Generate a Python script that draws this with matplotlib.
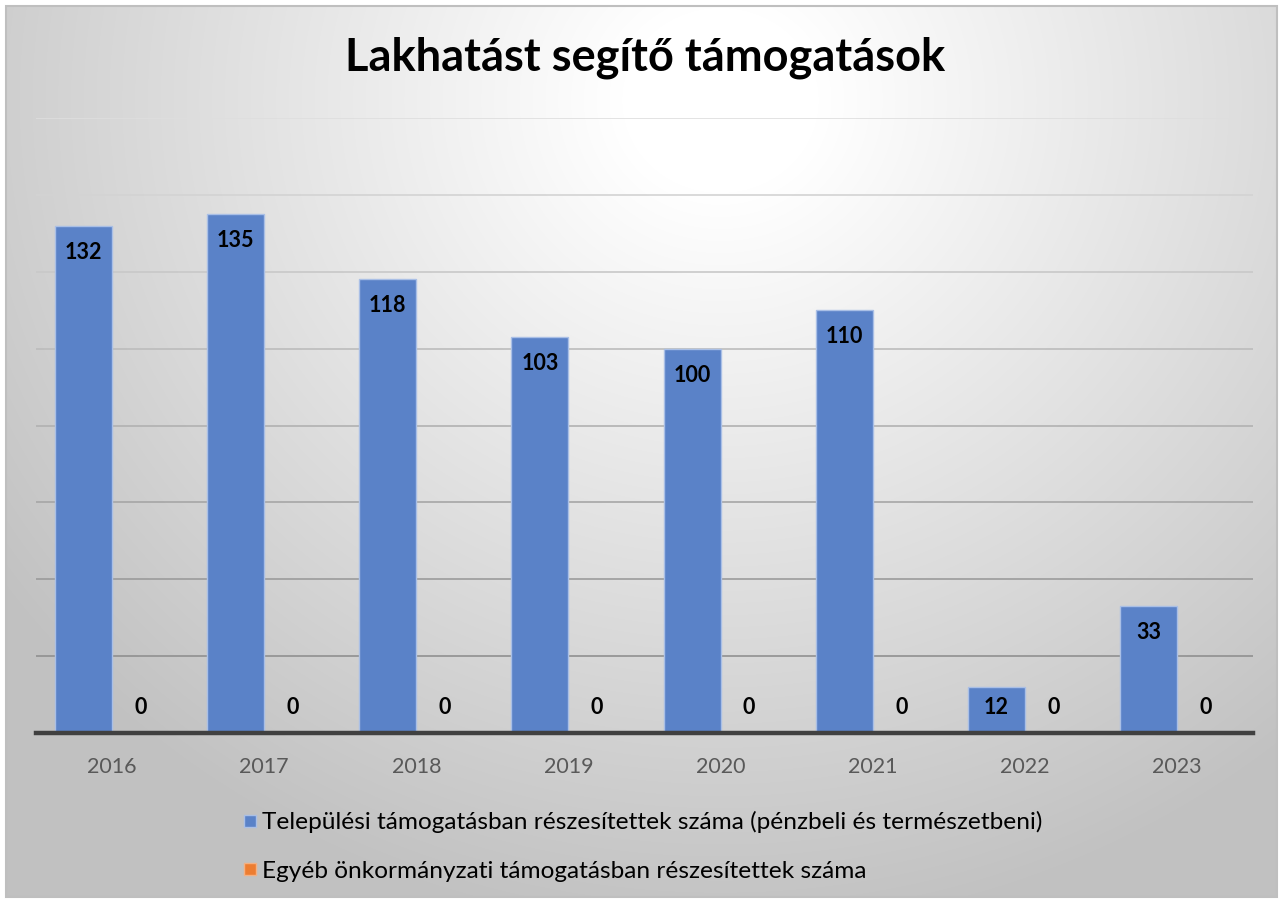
import numpy as np
import matplotlib.pyplot as plt
from matplotlib.patches import Rectangle
from matplotlib.lines import Line2D

plt.rcParams['font.family'] = ['Lato', 'DejaVu Sans']

# Adatok
years = ["2016", "2017", "2018", "2019", "2020", "2021", "2022", "2023"]
telepulesi = [132, 135, 118, 103, 100, 110, 12, 33]
egyeb = [0, 0, 0, 0, 0, 0, 0, 0]
series_names = ["Települési támogatásban részesítettek száma (pénzbeli és természetbeni)",
                "Egyéb önkormányzati támogatásban részesítettek száma"]
title = "Lakhatást segítő támogatások"

blue = "#5a82c8"
orange = "#ed7d31"

fig = plt.figure(figsize=(12.81, 9.01), dpi=100)

# háttér: radiális színátmenet
bg = fig.add_axes([0, 0, 1, 1], zorder=-10)
yy, xx = np.mgrid[0:901, 0:1281]
r = np.sqrt(((xx - 720) / 850.0) ** 2 + ((yy - 100) / 800.0) ** 2)
shade = np.clip(1.03 - 0.26 * r, 0.76, 1.0)
bg.imshow(np.dstack([shade] * 3), extent=[0, 1, 0, 1], aspect="auto", origin="upper")
bg.set_xlim(0, 1)
bg.set_ylim(0, 1)
bg.axis("off")
# keret + fehér margó
for rect in [Rectangle((0, 0), 1, 4 / 901), Rectangle((0, 0), 6 / 1281, 1),
             Rectangle((1277 / 1281, 0), 4 / 1281, 1), Rectangle((0, 895 / 901), 1, 6 / 901)]:
    rect.set_facecolor("white")
    rect.set_edgecolor("none")
    bg.add_patch(rect)
bg.add_patch(Rectangle((6 / 1281, 4 / 901), 1271 / 1281, 891 / 901, fill=False,
                       edgecolor="#bfbfbf", linewidth=1.5))

ax = fig.add_axes([36 / 1281, 1 - 733 / 901, (1253 - 36) / 1281, (733 - 118) / 901])
ax.patch.set_alpha(0)

x = np.arange(len(years))
w = 0.375
b1 = ax.bar(x - w / 2, telepulesi, w, color=blue, edgecolor="#a9bfe6", linewidth=1, zorder=3)
b2 = ax.bar(x + w / 2, egyeb, w, color=orange, zorder=3)

ax.set_xlim(-0.5, len(years) - 0.5)
ax.set_ylim(0, 160)

# rácsvonalak (felül világosabb, alul sötétebb)
grid_vals = np.arange(20, 161, 20)
for g in grid_vals:
    t = g / 160
    c = 0.52 + (0.87 - 0.52) * t
    ax.axhline(g, color=(c, c, c), linewidth=1.2, zorder=1)
ax.axhline(0, color="#404040", linewidth=3.2, zorder=5, clip_on=False)

for s in ax.spines.values():
    s.set_visible(False)
ax.set_yticks([])
ax.set_xticks(x)
ax.set_xticklabels(years, fontsize=15.5, color="#595959")
ax.tick_params(axis="x", length=0, pad=17)

for bar, v in zip(b1, telepulesi):
    off = -19 if v > 20 else -15
    ax.annotate(str(v), (bar.get_x() + bar.get_width() / 2, v), xytext=(0, off),
                textcoords="offset points", ha="center", va="center",
                fontsize=15.5, fontweight="bold", color="black", zorder=6)
for bar, v in zip(b2, egyeb):
    ax.annotate(str(v), (bar.get_x() + bar.get_width() / 2, v), xytext=(0, 18),
                textcoords="offset points", ha="center", va="center",
                fontsize=15.5, fontweight="bold", color="black", zorder=6)

fig.text(645 / 1281, 1 - 58 / 901, title, ha="center", va="center",
         fontsize=32.5, fontweight="bold", color="black")

handles = [Line2D([], [], marker="s", linestyle="none", markersize=9,
                  markerfacecolor=blue, markeredgecolor="#a9bfe6"),
           Line2D([], [], marker="s", linestyle="none", markersize=9,
                  markerfacecolor=orange, markeredgecolor="#f4b183")]
fig.legend(handles, series_names, loc="upper left",
           bbox_to_anchor=(216 / 1281, 1 - 789 / 901), frameon=False,
           fontsize=17.6, handletextpad=0.0, labelspacing=1.12, handlelength=1.0,
           labelcolor="black")

fig.savefig("out.png", dpi=100)
